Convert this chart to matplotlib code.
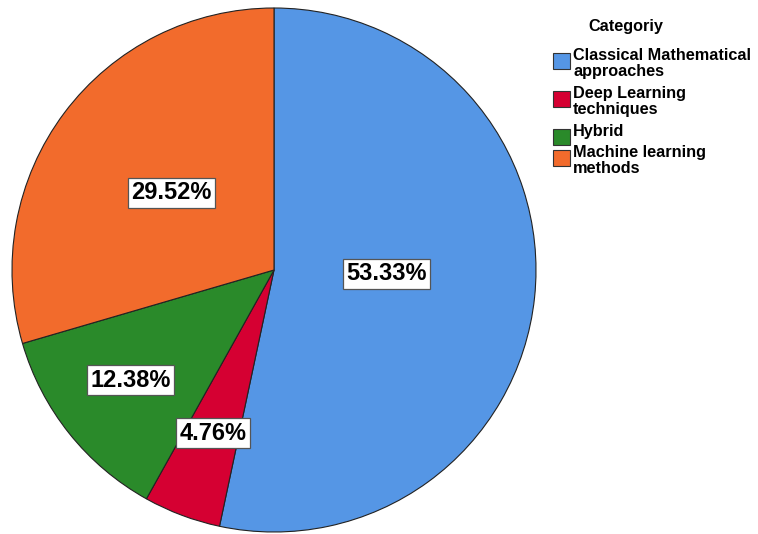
import matplotlib.pyplot as plt
import numpy as np
from matplotlib.patches import Rectangle

# -------------------------
# DATA
# -------------------------
categories = [
    "Classical Mathematical\napproaches",
    "Deep Learning\ntechniques",
    "Hybrid",
    "Machine learning\nmethods",
]
shares = [53.33, 4.76, 12.38, 29.52]
colors = ["#5596e5", "#d50032", "#2a8a2a", "#f26b2c"]
# label placement (fraction of radius, degrees off the wedge middle)
label_radius = [0.43, 0.665, 0.69, 0.49]
label_shift = [4, 0, -1, 0]

plt.rcParams["font.family"] = ["Liberation Sans", "DejaVu Sans"]

fig = plt.figure(figsize=(7.58, 5.34), dpi=100)
W, H = 758, 534
cx, cy, r = 274, 270, 262
ax = fig.add_axes([(cx - r) / W, (H - cy - r) / H, 2 * r / W, 2 * r / H])

wedges, _ = ax.pie(
    shares,
    colors=colors,
    startangle=90,
    counterclock=False,
    radius=1.0,
    wedgeprops=dict(edgecolor="#222222", linewidth=0.8),
)
ax.set_xlim(-1, 1)
ax.set_ylim(-1, 1)
ax.set_aspect("equal")

for w, pct, lr, sh in zip(wedges, shares, label_radius, label_shift):
    mid = np.deg2rad((w.theta1 + w.theta2) / 2 + sh)
    ax.text(
        lr * np.cos(mid), lr * np.sin(mid), f"{pct:.2f}%",
        ha="center", va="center", fontsize=17, fontweight="bold",
        bbox=dict(boxstyle="square,pad=0.15", fc="white", ec="#555555", lw=0.9),
    )

# -------------------------
# LEGEND (SPSS style, boxes aligned to first line)
# -------------------------
fig.text(626 / W, 1 - 27 / H, "Categoriy", ha="center", va="center",
         fontsize=11.7, fontweight="bold")
line_h = 17
y = 48
for cat, col in zip(categories, colors):
    fig.patches.append(Rectangle((553 / W, 1 - (y + 21) / H), 17 / W, 16 / H,
                                 transform=fig.transFigure, fc=col, ec="#333333", lw=0.8))
    fig.text(573 / W, 1 - y / H, cat, ha="left", va="top", fontsize=11.7,
             fontweight="bold", linespacing=1.12)
    nlines = cat.count("\n") + 1
    y += nlines * line_h + 4

fig.savefig("out.png", dpi=100)
